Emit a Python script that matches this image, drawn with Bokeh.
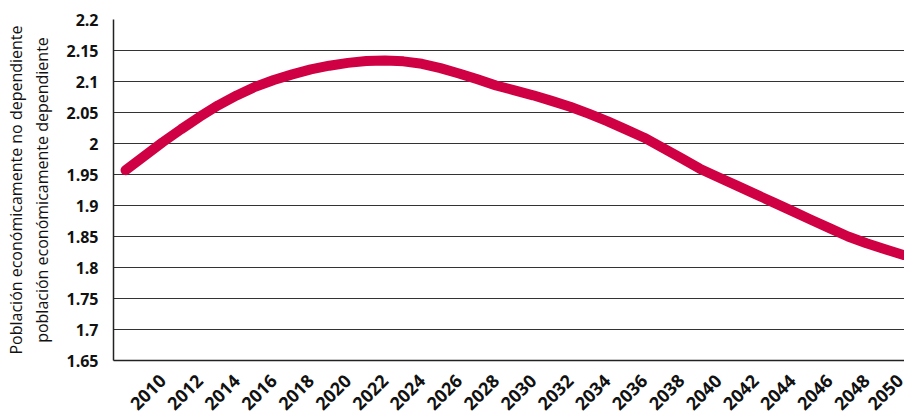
import math
from bokeh.plotting import figure
from bokeh.models import FixedTicker, CustomJSTickFormatter, Range1d
from bokeh.embed import file_html
from bokeh.resources import INLINE

years = list(range(2008, 2051))
ratio = [1.957, 1.9795, 2.002, 2.023, 2.043, 2.0615, 2.0775, 2.0915, 2.1025, 2.1115,
         2.1195, 2.1255, 2.13, 2.133, 2.134, 2.1325, 2.1285, 2.1215, 2.113, 2.1035,
         2.0935, 2.0857, 2.0777, 2.0687, 2.0593, 2.0481, 2.0361, 2.0228, 2.0093, 1.993,
         1.9763, 1.9594, 1.9455, 1.932, 1.9184, 1.9046, 1.891, 1.877, 1.8635, 1.8499,
         1.839, 1.8295, 1.820]
x_ticks = list(range(2010, 2051, 2))
y_ticks = [1.65, 1.7, 1.75, 1.8, 1.85, 1.9, 1.95, 2.0, 2.05, 2.1, 2.15, 2.2]
y_title = "Población económicamente no dependiente\npoblación económicamente dependiente"

FONT = "Open Sans"

p = figure(width=904, height=420, output_backend="svg", toolbar_location=None,
           x_range=Range1d(2007.35, 2050.05), y_range=Range1d(1.65, 2.2),
           min_border_left=113, min_border_right=0, min_border_top=19, min_border_bottom=60)
p.outline_line_color = None
p.background_fill_color = "white"

p.line(years, ratio, line_color="#CF0044", line_width=10, line_cap="round", line_join="round")

p.xaxis.ticker = FixedTicker(ticks=x_ticks)
p.xaxis.major_label_orientation = math.pi / 4
p.yaxis.ticker = FixedTicker(ticks=y_ticks)
p.yaxis.formatter = CustomJSTickFormatter(code="return String(Number(tick.toFixed(2)));")

for ax in (p.xaxis, p.yaxis):
    ax.major_tick_out = 0
    ax.major_tick_in = 0
    ax.minor_tick_out = 0
    ax.minor_tick_in = 0
    ax.axis_line_color = "#222222"
    ax.axis_line_width = 1.5
    ax.major_label_text_font = FONT
    ax.major_label_text_font_style = "bold"
    ax.major_label_text_color = "#111111"

p.yaxis.major_label_text_font_size = "16px"
p.xaxis.major_label_text_font_size = "18px"
p.yaxis.major_label_standoff = 15
p.xaxis.major_label_standoff = 17

p.yaxis.axis_label = y_title
p.yaxis.axis_label_text_font = FONT
p.yaxis.axis_label_text_font_style = "normal"
p.yaxis.axis_label_text_font_size = "16px"
p.yaxis.axis_label_text_color = "#111111"
p.yaxis.axis_label_standoff = 10

p.xgrid.grid_line_color = None
p.ygrid.grid_line_color = "#333333"
p.ygrid.grid_line_width = 1

open("out.html", "w").write(file_html(p, INLINE))
